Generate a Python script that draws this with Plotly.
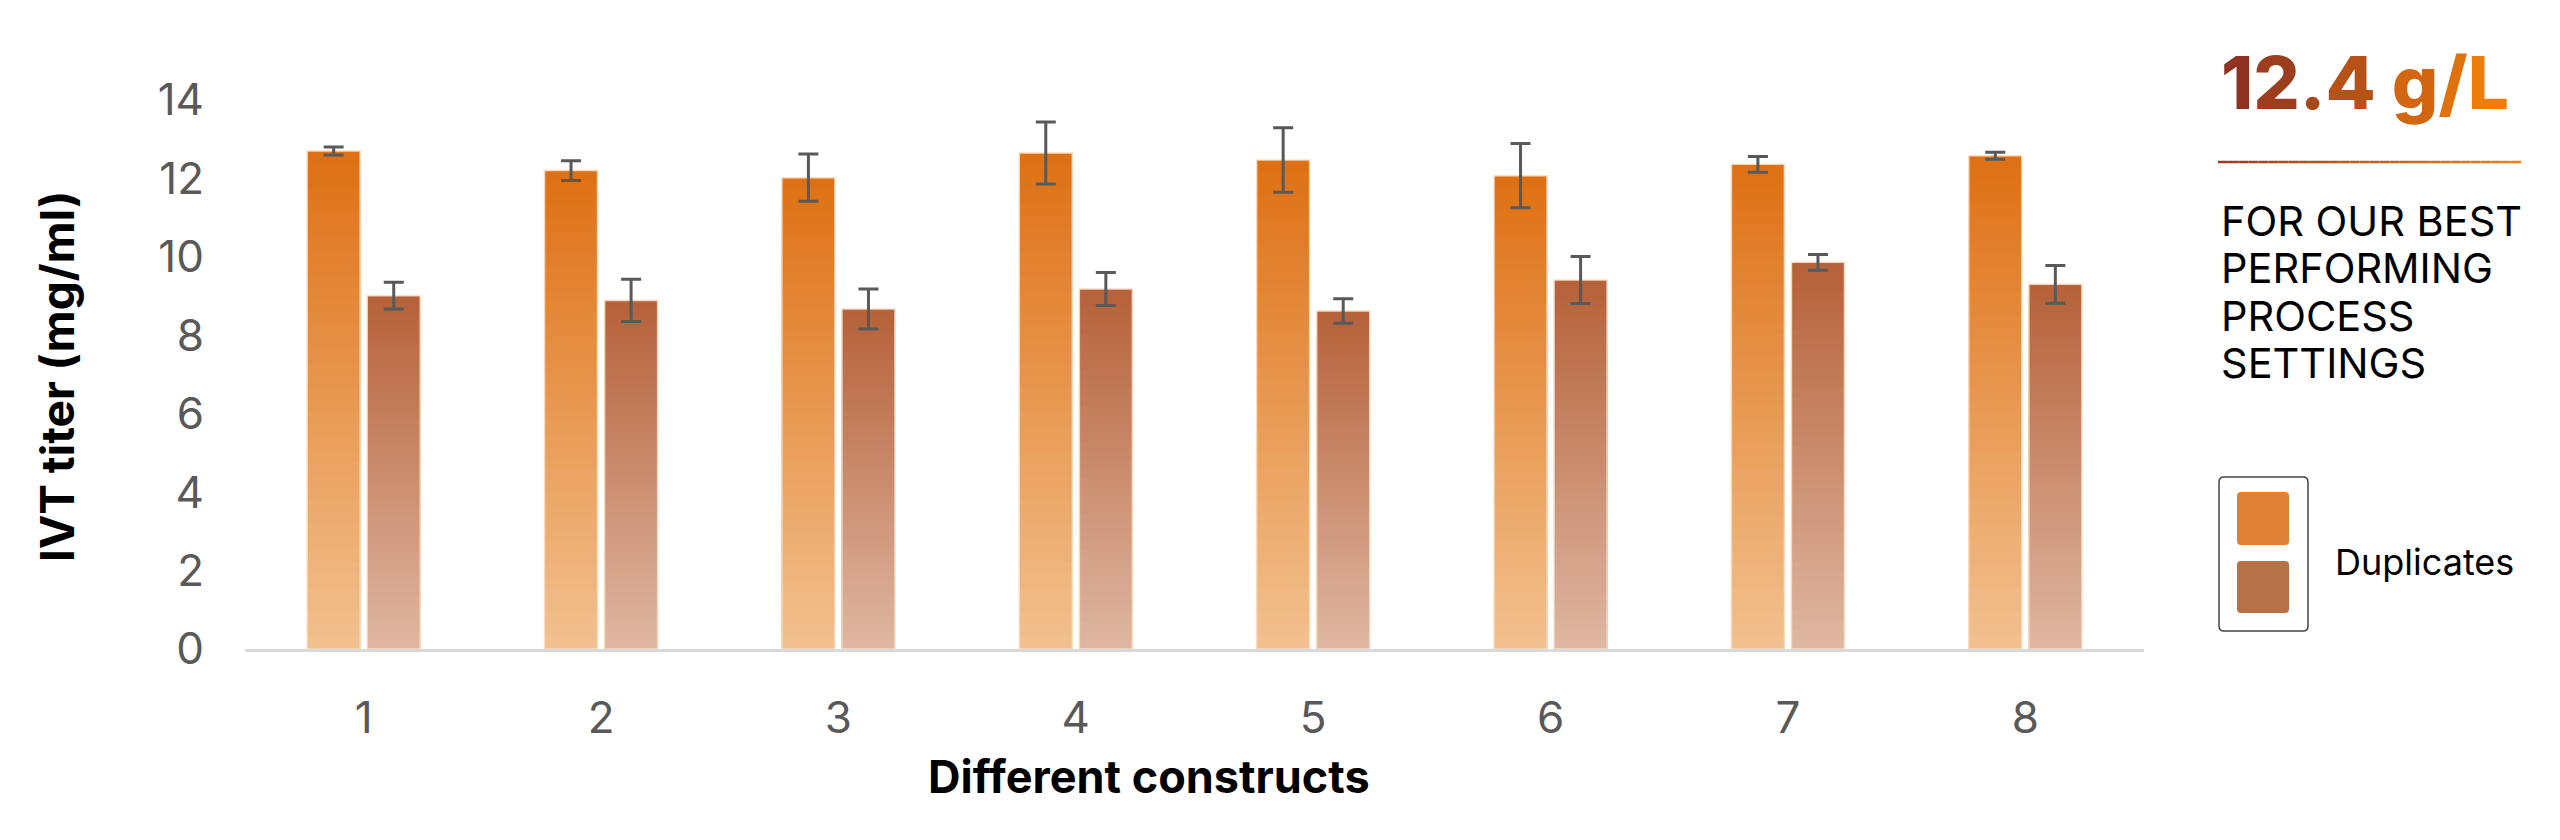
import plotly.graph_objects as go

constructs = ["1", "2", "3", "4", "5", "6", "7", "8"]
titer_run1 = [12.70, 12.20, 12.02, 12.65, 12.47, 12.07, 12.36, 12.58]
err_run1 = [0.10, 0.25, 0.60, 0.79, 0.82, 0.82, 0.20, 0.09]
titer_run2 = [9.01, 8.89, 8.67, 9.18, 8.62, 9.41, 9.86, 9.30]
err_run2 = [0.34, 0.54, 0.51, 0.42, 0.31, 0.60, 0.20, 0.48]
y_ticks = [0, 2, 4, 6, 8, 10, 12, 14]

headline = "12.4 g/L"
subtitle_lines = ["FOR OUR BEST", "PERFORMING", "PROCESS", "SETTINGS"]
legend_label = "Duplicates"

W, H = 2560, 840
OFF = 8                                  # page body margin shifts the figure
PL, PR, PT, PB = 245, 2144, 100, 649     # plot area, page pixels
FONT = "Inter"
GREY = "#595959"


def mix(c0, c1, t):
    return "#%02x%02x%02x" % tuple(round(a + (b - a) * t) for a, b in zip(c0, c1))


def px(x):
    return (x - PL) / (PR - PL)


def py(y):
    return (PB - y) / (PB - PT)


def rounded_rect(x0, y0, x1, y1, r):
    # pixel box -> svg path in paper coords
    pts = [
        f"M{px(x0 + r)},{py(y0)}", f"L{px(x1 - r)},{py(y0)}", f"Q{px(x1)},{py(y0)} {px(x1)},{py(y0 + r)}",
        f"L{px(x1)},{py(y1 - r)}", f"Q{px(x1)},{py(y1)} {px(x1 - r)},{py(y1)}",
        f"L{px(x0 + r)},{py(y1)}", f"Q{px(x0)},{py(y1)} {px(x0)},{py(y1 - r)}",
        f"L{px(x0)},{py(y0 + r)}", f"Q{px(x0)},{py(y0)} {px(x0 + r)},{py(y0)}", "Z",
    ]
    return " ".join(pts)


fig = go.Figure()

# gradient bars: nested bars, each shorter one a bit lighter
STEPS = 40
series = [
    (titer_run1, err_run1, "run1", (222, 113, 21), (242, 192, 142)),
    (titer_run2, err_run2, "run2", (182, 98, 58), (222, 182, 161)),
]
for vals, errs, grp, top, bottom in series:
    for k in range(STEPS):
        frac = 1 - k / STEPS
        fig.add_trace(go.Bar(
            x=constructs, y=[v * frac for v in vals], offsetgroup=grp,
            marker=dict(color=mix(top, bottom, k / (STEPS - 1)), line_width=0),
            hoverinfo="skip", showlegend=False,
        ))
    fig.add_trace(go.Bar(
        x=constructs, y=vals, offsetgroup=grp,
        marker=dict(color="rgba(0,0,0,0)", line=dict(color="rgba(250,222,196,0.9)", width=1.5)),
        error_y=dict(type="data", array=errs, color=GREY, thickness=3, width=10),
        showlegend=False,
    ))

fig.update_layout(
    width=W, height=H,
    margin=dict(l=PL - OFF, r=W - (PR - OFF), t=PT - OFF, b=H - (PB - OFF), pad=0),
    plot_bgcolor="white", paper_bgcolor="white",
    barmode="group", bargap=0.494, bargroupgap=0.117,
    showlegend=False,
    font=dict(family=FONT, color=GREY),
)
fig.update_xaxes(showline=True, linecolor="#d9d9d9", linewidth=3, ticks="", showgrid=False,
                 tickfont=dict(size=44, color=GREY), ticklabelstandoff=28)
fig.update_yaxes(range=[0, 14], tickvals=y_ticks, showgrid=False, zeroline=False, showline=False,
                 ticks="", tickfont=dict(size=44, color=GREY), ticklabelstandoff=40)

ann = []
# axis titles
ann.append(dict(text="IVT titer (mg/ml)", x=px(57), y=py(377), textangle=-90,
                font=dict(size=46, color="black", family=FONT, weight=700)))
ann.append(dict(text="Different constructs", x=px(1149), y=py(776),
                font=dict(size=45, color="black", family=FONT, weight=700)))

# headline with colour sweep per character
c_left, c_right = (142, 51, 33), (238, 124, 10)
n = len(headline)
spans = "".join(
    f"<span style='color:{mix(c_left, c_right, i / (n - 1))}'>{ch}</span>" for i, ch in enumerate(headline)
)
ann.append(dict(text=spans, x=px(2219), y=py(83), xanchor="left",
                font=dict(size=73, family=FONT, weight=800)))

for i, line in enumerate(subtitle_lines):
    ann.append(dict(text=line, x=px(2219), y=py(221 + i * 47.3), xanchor="left",
                    font=dict(size=41.5, color="black", family=FONT)))

ann.append(dict(text=legend_label, x=px(2333), y=py(562), xanchor="left",
                font=dict(size=36, color="black", family=FONT)))

for a in ann:
    a.update(xref="paper", yref="paper", showarrow=False)
    a.setdefault("xanchor", "center")
    a.setdefault("yanchor", "middle")
fig.update_layout(annotations=ann)

shapes = []
# gradient rule under the headline
seg = 30
x0, x1 = 2218, 2521
for i in range(seg):
    xa = x0 + (x1 - x0) * i / seg
    xb = x0 + (x1 - x0) * (i + 1) / seg
    shapes.append(dict(type="line", x0=px(xa), x1=px(xb), y0=py(162), y1=py(162),
                       line=dict(color=mix((155, 58, 37), (238, 128, 19), i / (seg - 1)), width=2.5)))
# legend box and swatches
shapes.append(dict(type="path", path=rounded_rect(2219, 477, 2308, 631, 5),
                   line=dict(color="#444444", width=1.5), fillcolor="rgba(0,0,0,0)"))
shapes.append(dict(type="path", path=rounded_rect(2237, 492, 2289, 545, 4),
                   line=dict(width=0), fillcolor="#de8035"))
shapes.append(dict(type="path", path=rounded_rect(2237, 561, 2289, 613, 4),
                   line=dict(width=0), fillcolor="#b77148"))
for s in shapes:
    s.update(xref="paper", yref="paper", layer="above")
fig.update_layout(shapes=shapes)

fig.write_html("out.html")
